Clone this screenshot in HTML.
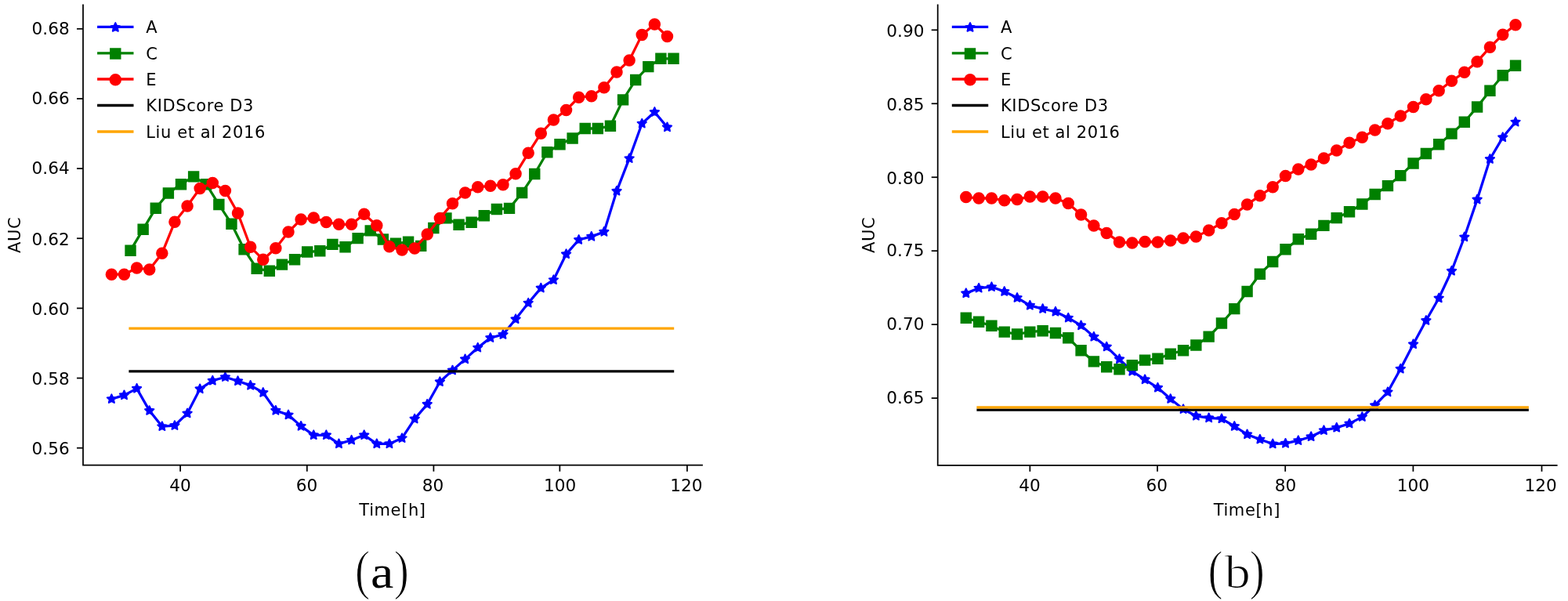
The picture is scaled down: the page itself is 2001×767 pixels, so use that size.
<!DOCTYPE html>
<html><head><meta charset="utf-8"><title>AUC over time</title>
<style>
html,body{margin:0;padding:0;background:#fff;}
svg{display:block;}
.t{font-family:"DejaVu Sans","Liberation Sans",sans-serif;font-size:21.6px;fill:#000;}
.cap{font-family:"Liberation Serif","DejaVu Serif",serif;font-size:60px;fill:#000;}
.capb{stroke:#fff;stroke-width:1.1px;}
.par{font-family:"Liberation Serif","DejaVu Serif",serif;font-size:70px;fill:#000;stroke:#fff;stroke-width:1.2px;}
.l{font-family:"DejaVu Sans","Liberation Sans",sans-serif;font-size:21px;letter-spacing:0.6px;fill:#000;}
</style></head>
<body>
<svg width="2001" height="767" viewBox="0 0 2001 767">
<rect width="2001" height="767" fill="#fff"/>
<path d="M142.36,509.2 L158.48,504.4 L174.59,495.9 L190.71,524.1 L206.83,544.2 L222.94,543.1 L239.06,527.5 L255.17,496.4 L271.29,485.8 L287.41,481.2 L303.52,486.3 L319.64,491.9 L335.75,501 L351.87,523.9 L367.99,529.5 L384.1,543.9 L400.22,555.3 L416.33,555.3 L432.45,566.4 L448.57,561.7 L464.68,555.3 L480.8,566.4 L496.91,566.4 L513.03,559.2 L529.15,534.6 L545.26,515.9 L561.38,487.3 L577.49,472.6 L593.61,458.4 L609.73,443.7 L625.84,431.1 L641.96,427 L658.07,407.3 L674.19,386.7 L690.31,367.6 L706.42,357.2 L722.54,324.3 L738.65,306 L754.77,301.9 L770.89,295.9 L787,243.8 L803.12,202.2 L819.23,157.7 L835.35,143 L851.47,162.4" fill="none" stroke="#0000ff" stroke-width="3.26" stroke-linejoin="round" stroke-linecap="square"/>
<path d="M142.36,503.3 L140.7,506.91 L136.75,507.38 L139.67,510.08 L138.89,513.97 L142.36,512.03 L145.83,513.97 L145.06,510.08 L147.97,507.38 L144.03,506.91Z M158.48,498.5 L156.81,502.11 L152.87,502.58 L155.78,505.28 L155.01,509.17 L158.48,507.23 L161.95,509.17 L161.17,505.28 L164.09,502.58 L160.14,502.11Z M174.59,490 L172.93,493.61 L168.98,494.08 L171.9,496.78 L171.13,500.67 L174.59,498.73 L178.06,500.67 L177.29,496.78 L180.21,494.08 L176.26,493.61Z M190.71,518.2 L189.05,521.81 L185.1,522.28 L188.02,524.98 L187.24,528.87 L190.71,526.93 L194.18,528.87 L193.4,524.98 L196.32,522.28 L192.37,521.81Z M206.83,538.3 L205.16,541.91 L201.21,542.38 L204.13,545.08 L203.36,548.97 L206.83,547.03 L210.29,548.97 L209.52,545.08 L212.44,542.38 L208.49,541.91Z M222.94,537.2 L221.28,540.81 L217.33,541.28 L220.25,543.98 L219.47,547.87 L222.94,545.93 L226.41,547.87 L225.64,543.98 L228.55,541.28 L224.61,540.81Z M239.06,521.6 L237.39,525.21 L233.45,525.68 L236.36,528.38 L235.59,532.27 L239.06,530.33 L242.53,532.27 L241.75,528.38 L244.67,525.68 L240.72,525.21Z M255.17,490.5 L253.51,494.11 L249.56,494.58 L252.48,497.28 L251.71,501.17 L255.17,499.23 L258.64,501.17 L257.87,497.28 L260.79,494.58 L256.84,494.11Z M271.29,479.9 L269.63,483.51 L265.68,483.98 L268.6,486.68 L267.82,490.57 L271.29,488.63 L274.76,490.57 L273.98,486.68 L276.9,483.98 L272.95,483.51Z M287.41,475.3 L285.74,478.91 L281.79,479.38 L284.71,482.08 L283.94,485.97 L287.41,484.03 L290.87,485.97 L290.1,482.08 L293.02,479.38 L289.07,478.91Z M303.52,480.4 L301.86,484.01 L297.91,484.48 L300.83,487.18 L300.05,491.07 L303.52,489.13 L306.99,491.07 L306.22,487.18 L309.13,484.48 L305.19,484.01Z M319.64,486 L317.97,489.61 L314.03,490.08 L316.94,492.78 L316.17,496.67 L319.64,494.73 L323.11,496.67 L322.33,492.78 L325.25,490.08 L321.3,489.61Z M335.75,495.1 L334.09,498.71 L330.14,499.18 L333.06,501.88 L332.29,505.77 L335.75,503.83 L339.22,505.77 L338.45,501.88 L341.37,499.18 L337.42,498.71Z M351.87,518 L350.21,521.61 L346.26,522.08 L349.18,524.78 L348.4,528.67 L351.87,526.73 L355.34,528.67 L354.56,524.78 L357.48,522.08 L353.53,521.61Z M367.99,523.6 L366.32,527.21 L362.37,527.68 L365.29,530.38 L364.52,534.27 L367.99,532.33 L371.45,534.27 L370.68,530.38 L373.6,527.68 L369.65,527.21Z M384.1,538 L382.44,541.61 L378.49,542.08 L381.41,544.78 L380.63,548.67 L384.1,546.73 L387.57,548.67 L386.8,544.78 L389.71,542.08 L385.77,541.61Z M400.22,549.4 L398.55,553.01 L394.61,553.48 L397.52,556.18 L396.75,560.07 L400.22,558.13 L403.69,560.07 L402.91,556.18 L405.83,553.48 L401.88,553.01Z M416.33,549.4 L414.67,553.01 L410.72,553.48 L413.64,556.18 L412.87,560.07 L416.33,558.13 L419.8,560.07 L419.03,556.18 L421.95,553.48 L418,553.01Z M432.45,560.5 L430.79,564.11 L426.84,564.58 L429.76,567.28 L428.98,571.17 L432.45,569.23 L435.92,571.17 L435.14,567.28 L438.06,564.58 L434.11,564.11Z M448.57,555.8 L446.9,559.41 L442.95,559.88 L445.87,562.58 L445.1,566.47 L448.57,564.53 L452.03,566.47 L451.26,562.58 L454.18,559.88 L450.23,559.41Z M464.68,549.4 L463.02,553.01 L459.07,553.48 L461.99,556.18 L461.21,560.07 L464.68,558.13 L468.15,560.07 L467.38,556.18 L470.29,553.48 L466.35,553.01Z M480.8,560.5 L479.13,564.11 L475.19,564.58 L478.1,567.28 L477.33,571.17 L480.8,569.23 L484.27,571.17 L483.49,567.28 L486.41,564.58 L482.46,564.11Z M496.91,560.5 L495.25,564.11 L491.3,564.58 L494.22,567.28 L493.45,571.17 L496.91,569.23 L500.38,571.17 L499.61,567.28 L502.53,564.58 L498.58,564.11Z M513.03,553.3 L511.37,556.91 L507.42,557.38 L510.34,560.08 L509.56,563.97 L513.03,562.03 L516.5,563.97 L515.72,560.08 L518.64,557.38 L514.69,556.91Z M529.15,528.7 L527.48,532.31 L523.53,532.78 L526.45,535.48 L525.68,539.37 L529.15,537.43 L532.61,539.37 L531.84,535.48 L534.76,532.78 L530.81,532.31Z M545.26,510 L543.6,513.61 L539.65,514.08 L542.57,516.78 L541.79,520.67 L545.26,518.73 L548.73,520.67 L547.96,516.78 L550.87,514.08 L546.93,513.61Z M561.38,481.4 L559.71,485.01 L555.77,485.48 L558.68,488.18 L557.91,492.07 L561.38,490.13 L564.85,492.07 L564.07,488.18 L566.99,485.48 L563.04,485.01Z M577.49,466.7 L575.83,470.31 L571.88,470.78 L574.8,473.48 L574.03,477.37 L577.49,475.43 L580.96,477.37 L580.19,473.48 L583.11,470.78 L579.16,470.31Z M593.61,452.5 L591.95,456.11 L588,456.58 L590.92,459.28 L590.14,463.17 L593.61,461.23 L597.08,463.17 L596.3,459.28 L599.22,456.58 L595.27,456.11Z M609.73,437.8 L608.06,441.41 L604.11,441.88 L607.03,444.58 L606.26,448.47 L609.73,446.53 L613.19,448.47 L612.42,444.58 L615.34,441.88 L611.39,441.41Z M625.84,425.2 L624.18,428.81 L620.23,429.28 L623.15,431.98 L622.37,435.87 L625.84,433.93 L629.31,435.87 L628.54,431.98 L631.45,429.28 L627.51,428.81Z M641.96,421.1 L640.29,424.71 L636.35,425.18 L639.26,427.88 L638.49,431.77 L641.96,429.83 L645.43,431.77 L644.65,427.88 L647.57,425.18 L643.62,424.71Z M658.07,401.4 L656.41,405.01 L652.46,405.48 L655.38,408.18 L654.61,412.07 L658.07,410.13 L661.54,412.07 L660.77,408.18 L663.69,405.48 L659.74,405.01Z M674.19,380.8 L672.53,384.41 L668.58,384.88 L671.5,387.58 L670.72,391.47 L674.19,389.53 L677.66,391.47 L676.88,387.58 L679.8,384.88 L675.85,384.41Z M690.31,361.7 L688.64,365.31 L684.69,365.78 L687.61,368.48 L686.84,372.37 L690.31,370.43 L693.77,372.37 L693,368.48 L695.92,365.78 L691.97,365.31Z M706.42,351.3 L704.76,354.91 L700.81,355.38 L703.73,358.08 L702.95,361.97 L706.42,360.03 L709.89,361.97 L709.12,358.08 L712.03,355.38 L708.09,354.91Z M722.54,318.4 L720.87,322.01 L716.93,322.48 L719.84,325.18 L719.07,329.07 L722.54,327.13 L726.01,329.07 L725.23,325.18 L728.15,322.48 L724.2,322.01Z M738.65,300.1 L736.99,303.71 L733.04,304.18 L735.96,306.88 L735.19,310.77 L738.65,308.83 L742.12,310.77 L741.35,306.88 L744.27,304.18 L740.32,303.71Z M754.77,296 L753.11,299.61 L749.16,300.08 L752.08,302.78 L751.3,306.67 L754.77,304.73 L758.24,306.67 L757.46,302.78 L760.38,300.08 L756.43,299.61Z M770.89,290 L769.22,293.61 L765.27,294.08 L768.19,296.78 L767.42,300.67 L770.89,298.73 L774.35,300.67 L773.58,296.78 L776.5,294.08 L772.55,293.61Z M787,237.9 L785.34,241.51 L781.39,241.98 L784.31,244.68 L783.53,248.57 L787,246.63 L790.47,248.57 L789.7,244.68 L792.61,241.98 L788.67,241.51Z M803.12,196.3 L801.45,199.91 L797.51,200.38 L800.42,203.08 L799.65,206.97 L803.12,205.03 L806.59,206.97 L805.81,203.08 L808.73,200.38 L804.78,199.91Z M819.23,151.8 L817.57,155.41 L813.62,155.88 L816.54,158.58 L815.77,162.47 L819.23,160.53 L822.7,162.47 L821.93,158.58 L824.85,155.88 L820.9,155.41Z M835.35,137.1 L833.69,140.71 L829.74,141.18 L832.66,143.88 L831.88,147.77 L835.35,145.83 L838.82,147.77 L838.04,143.88 L840.96,141.18 L837.01,140.71Z M851.47,156.5 L849.8,160.11 L845.85,160.58 L848.77,163.28 L848,167.17 L851.47,165.23 L854.93,167.17 L854.16,163.28 L857.08,160.58 L853.13,160.11Z" fill="#0000ff" stroke="#0000ff" stroke-width="2.0" stroke-linejoin="round"/>
<path d="M166.54,319.7 L182.65,292.7 L198.77,265.7 L214.88,246.5 L231,235.2 L247.12,225.4 L263.23,235.2 L279.35,261 L295.46,285.7 L311.58,318.3 L327.7,342.7 L343.81,345.8 L359.93,337.6 L376.04,331.2 L392.16,321.5 L408.28,320.3 L424.39,311.9 L440.51,315.3 L456.62,304.1 L472.74,294.4 L488.86,305.5 L504.97,310.7 L521.09,308.8 L537.2,313.9 L553.32,291 L569.44,278.4 L585.55,286.8 L601.67,283.7 L617.78,275.3 L633.9,267 L650.02,265.9 L666.13,246.05 L682.25,222 L698.36,194.3 L714.48,184.3 L730.6,176.5 L746.71,164 L762.83,164 L778.94,160.8 L795.06,127.4 L811.18,102 L827.29,85.1 L843.41,74.8 L859.52,74.8" fill="none" stroke="#008000" stroke-width="3.26" stroke-linejoin="round" stroke-linecap="square"/>
<path d="M160.34,313.5h12.4v12.4h-12.4Z M176.45,286.5h12.4v12.4h-12.4Z M192.57,259.5h12.4v12.4h-12.4Z M208.68,240.3h12.4v12.4h-12.4Z M224.8,229h12.4v12.4h-12.4Z M240.92,219.2h12.4v12.4h-12.4Z M257.03,229h12.4v12.4h-12.4Z M273.15,254.8h12.4v12.4h-12.4Z M289.26,279.5h12.4v12.4h-12.4Z M305.38,312.1h12.4v12.4h-12.4Z M321.5,336.5h12.4v12.4h-12.4Z M337.61,339.6h12.4v12.4h-12.4Z M353.73,331.4h12.4v12.4h-12.4Z M369.84,325h12.4v12.4h-12.4Z M385.96,315.3h12.4v12.4h-12.4Z M402.08,314.1h12.4v12.4h-12.4Z M418.19,305.7h12.4v12.4h-12.4Z M434.31,309.1h12.4v12.4h-12.4Z M450.42,297.9h12.4v12.4h-12.4Z M466.54,288.2h12.4v12.4h-12.4Z M482.66,299.3h12.4v12.4h-12.4Z M498.77,304.5h12.4v12.4h-12.4Z M514.89,302.6h12.4v12.4h-12.4Z M531,307.7h12.4v12.4h-12.4Z M547.12,284.8h12.4v12.4h-12.4Z M563.24,272.2h12.4v12.4h-12.4Z M579.35,280.6h12.4v12.4h-12.4Z M595.47,277.5h12.4v12.4h-12.4Z M611.58,269.1h12.4v12.4h-12.4Z M627.7,260.8h12.4v12.4h-12.4Z M643.82,259.7h12.4v12.4h-12.4Z M659.93,239.85h12.4v12.4h-12.4Z M676.05,215.8h12.4v12.4h-12.4Z M692.16,188.1h12.4v12.4h-12.4Z M708.28,178.1h12.4v12.4h-12.4Z M724.4,170.3h12.4v12.4h-12.4Z M740.51,157.8h12.4v12.4h-12.4Z M756.63,157.8h12.4v12.4h-12.4Z M772.74,154.6h12.4v12.4h-12.4Z M788.86,121.2h12.4v12.4h-12.4Z M804.98,95.8h12.4v12.4h-12.4Z M821.09,78.9h12.4v12.4h-12.4Z M837.21,68.6h12.4v12.4h-12.4Z M853.32,68.6h12.4v12.4h-12.4Z" fill="#008000" stroke="#008000" stroke-width="2.0" stroke-linejoin="miter"/>
<path d="M142.36,350.2 L158.48,350.2 L174.59,342 L190.71,343.9 L206.83,323.2 L222.94,283.3 L239.06,262.9 L255.17,240.4 L271.29,233.6 L287.41,243.4 L303.52,272 L319.64,315.3 L335.75,331.2 L351.87,316.8 L367.99,296.1 L384.1,280 L400.22,278 L416.33,283.4 L432.45,286.3 L448.57,286.3 L464.68,273.2 L480.8,287.7 L496.91,314.8 L513.03,318.9 L529.15,317 L545.26,298.9 L561.38,278.4 L577.49,259.7 L593.61,246.1 L609.73,238.8 L625.84,237.2 L641.96,235.7 L658.07,221.7 L674.19,195.35 L690.31,170.2 L706.42,153 L722.54,140.5 L738.65,124.2 L754.77,122.7 L770.89,111.7 L787,92 L803.12,77 L819.23,44.4 L835.35,31 L851.47,46.6" fill="none" stroke="#ff0000" stroke-width="3.26" stroke-linejoin="round" stroke-linecap="square"/>
<circle cx="142.36" cy="350.2" r="6.75" fill="#ff0000" stroke="#ff0000" stroke-width="2.0"/>
<circle cx="158.48" cy="350.2" r="6.75" fill="#ff0000" stroke="#ff0000" stroke-width="2.0"/>
<circle cx="174.59" cy="342" r="6.75" fill="#ff0000" stroke="#ff0000" stroke-width="2.0"/>
<circle cx="190.71" cy="343.9" r="6.75" fill="#ff0000" stroke="#ff0000" stroke-width="2.0"/>
<circle cx="206.83" cy="323.2" r="6.75" fill="#ff0000" stroke="#ff0000" stroke-width="2.0"/>
<circle cx="222.94" cy="283.3" r="6.75" fill="#ff0000" stroke="#ff0000" stroke-width="2.0"/>
<circle cx="239.06" cy="262.9" r="6.75" fill="#ff0000" stroke="#ff0000" stroke-width="2.0"/>
<circle cx="255.17" cy="240.4" r="6.75" fill="#ff0000" stroke="#ff0000" stroke-width="2.0"/>
<circle cx="271.29" cy="233.6" r="6.75" fill="#ff0000" stroke="#ff0000" stroke-width="2.0"/>
<circle cx="287.41" cy="243.4" r="6.75" fill="#ff0000" stroke="#ff0000" stroke-width="2.0"/>
<circle cx="303.52" cy="272" r="6.75" fill="#ff0000" stroke="#ff0000" stroke-width="2.0"/>
<circle cx="319.64" cy="315.3" r="6.75" fill="#ff0000" stroke="#ff0000" stroke-width="2.0"/>
<circle cx="335.75" cy="331.2" r="6.75" fill="#ff0000" stroke="#ff0000" stroke-width="2.0"/>
<circle cx="351.87" cy="316.8" r="6.75" fill="#ff0000" stroke="#ff0000" stroke-width="2.0"/>
<circle cx="367.99" cy="296.1" r="6.75" fill="#ff0000" stroke="#ff0000" stroke-width="2.0"/>
<circle cx="384.1" cy="280" r="6.75" fill="#ff0000" stroke="#ff0000" stroke-width="2.0"/>
<circle cx="400.22" cy="278" r="6.75" fill="#ff0000" stroke="#ff0000" stroke-width="2.0"/>
<circle cx="416.33" cy="283.4" r="6.75" fill="#ff0000" stroke="#ff0000" stroke-width="2.0"/>
<circle cx="432.45" cy="286.3" r="6.75" fill="#ff0000" stroke="#ff0000" stroke-width="2.0"/>
<circle cx="448.57" cy="286.3" r="6.75" fill="#ff0000" stroke="#ff0000" stroke-width="2.0"/>
<circle cx="464.68" cy="273.2" r="6.75" fill="#ff0000" stroke="#ff0000" stroke-width="2.0"/>
<circle cx="480.8" cy="287.7" r="6.75" fill="#ff0000" stroke="#ff0000" stroke-width="2.0"/>
<circle cx="496.91" cy="314.8" r="6.75" fill="#ff0000" stroke="#ff0000" stroke-width="2.0"/>
<circle cx="513.03" cy="318.9" r="6.75" fill="#ff0000" stroke="#ff0000" stroke-width="2.0"/>
<circle cx="529.15" cy="317" r="6.75" fill="#ff0000" stroke="#ff0000" stroke-width="2.0"/>
<circle cx="545.26" cy="298.9" r="6.75" fill="#ff0000" stroke="#ff0000" stroke-width="2.0"/>
<circle cx="561.38" cy="278.4" r="6.75" fill="#ff0000" stroke="#ff0000" stroke-width="2.0"/>
<circle cx="577.49" cy="259.7" r="6.75" fill="#ff0000" stroke="#ff0000" stroke-width="2.0"/>
<circle cx="593.61" cy="246.1" r="6.75" fill="#ff0000" stroke="#ff0000" stroke-width="2.0"/>
<circle cx="609.73" cy="238.8" r="6.75" fill="#ff0000" stroke="#ff0000" stroke-width="2.0"/>
<circle cx="625.84" cy="237.2" r="6.75" fill="#ff0000" stroke="#ff0000" stroke-width="2.0"/>
<circle cx="641.96" cy="235.7" r="6.75" fill="#ff0000" stroke="#ff0000" stroke-width="2.0"/>
<circle cx="658.07" cy="221.7" r="6.75" fill="#ff0000" stroke="#ff0000" stroke-width="2.0"/>
<circle cx="674.19" cy="195.35" r="6.75" fill="#ff0000" stroke="#ff0000" stroke-width="2.0"/>
<circle cx="690.31" cy="170.2" r="6.75" fill="#ff0000" stroke="#ff0000" stroke-width="2.0"/>
<circle cx="706.42" cy="153" r="6.75" fill="#ff0000" stroke="#ff0000" stroke-width="2.0"/>
<circle cx="722.54" cy="140.5" r="6.75" fill="#ff0000" stroke="#ff0000" stroke-width="2.0"/>
<circle cx="738.65" cy="124.2" r="6.75" fill="#ff0000" stroke="#ff0000" stroke-width="2.0"/>
<circle cx="754.77" cy="122.7" r="6.75" fill="#ff0000" stroke="#ff0000" stroke-width="2.0"/>
<circle cx="770.89" cy="111.7" r="6.75" fill="#ff0000" stroke="#ff0000" stroke-width="2.0"/>
<circle cx="787" cy="92" r="6.75" fill="#ff0000" stroke="#ff0000" stroke-width="2.0"/>
<circle cx="803.12" cy="77" r="6.75" fill="#ff0000" stroke="#ff0000" stroke-width="2.0"/>
<circle cx="819.23" cy="44.4" r="6.75" fill="#ff0000" stroke="#ff0000" stroke-width="2.0"/>
<circle cx="835.35" cy="31" r="6.75" fill="#ff0000" stroke="#ff0000" stroke-width="2.0"/>
<circle cx="851.47" cy="46.6" r="6.75" fill="#ff0000" stroke="#ff0000" stroke-width="2.0"/>
<line x1="164.4" y1="473.8" x2="860.2" y2="473.8" stroke="#000" stroke-width="3.26"/>
<line x1="164.4" y1="419.05" x2="860.2" y2="419.05" stroke="#ffa500" stroke-width="3.26"/>
<line x1="106" y1="36.8" x2="98" y2="36.8" stroke="#000" stroke-width="1.75"/>
<text x="88.7" y="43.7" text-anchor="end" class="t">0.68</text>
<line x1="106" y1="125.95" x2="98" y2="125.95" stroke="#000" stroke-width="1.75"/>
<text x="88.7" y="132.8" text-anchor="end" class="t">0.66</text>
<line x1="106" y1="215.1" x2="98" y2="215.1" stroke="#000" stroke-width="1.75"/>
<text x="88.7" y="221.9" text-anchor="end" class="t">0.64</text>
<line x1="106" y1="304.25" x2="98" y2="304.25" stroke="#000" stroke-width="1.75"/>
<text x="88.7" y="313" text-anchor="end" class="t">0.62</text>
<line x1="106" y1="393.4" x2="98" y2="393.4" stroke="#000" stroke-width="1.75"/>
<text x="88.7" y="401.9" text-anchor="end" class="t">0.60</text>
<line x1="106" y1="482.55" x2="98" y2="482.55" stroke="#000" stroke-width="1.75"/>
<text x="88.7" y="491" text-anchor="end" class="t">0.58</text>
<line x1="106" y1="571.7" x2="98" y2="571.7" stroke="#000" stroke-width="1.75"/>
<text x="88.7" y="580.3" text-anchor="end" class="t">0.56</text>
<line x1="230.1" y1="593.7" x2="230.1" y2="601.7" stroke="#000" stroke-width="1.75"/>
<text x="230" y="626.5" text-anchor="middle" class="t">40</text>
<line x1="391.8" y1="593.7" x2="391.8" y2="601.7" stroke="#000" stroke-width="1.75"/>
<text x="391.6" y="626.5" text-anchor="middle" class="t">60</text>
<line x1="553.4" y1="593.7" x2="553.4" y2="601.7" stroke="#000" stroke-width="1.75"/>
<text x="552.6" y="626.5" text-anchor="middle" class="t">80</text>
<line x1="714.35" y1="593.7" x2="714.35" y2="601.7" stroke="#000" stroke-width="1.75"/>
<text x="714.6" y="626.5" text-anchor="middle" class="t">100</text>
<line x1="876.9" y1="593.7" x2="876.9" y2="601.7" stroke="#000" stroke-width="1.75"/>
<text x="875.8" y="626.5" text-anchor="middle" class="t">120</text>
<path d="M106,6.38 V593.7 M106,593.7 H896.02" fill="none" stroke="#000" stroke-width="1.75" stroke-linecap="square"/>
<text x="501" y="658.3" text-anchor="middle" class="l">Time[h]</text>
<text transform="translate(25.6,299.8) rotate(-90)" text-anchor="middle" class="l">AUC</text>
<line x1="124.1" y1="34.3" x2="170.5" y2="34.3" stroke="#0000ff" stroke-width="3.26"/>
<path d="M147.3,29.1 L145.64,32.71 L141.69,33.18 L144.61,35.88 L143.83,39.77 L147.3,37.83 L150.77,39.77 L149.99,35.88 L152.91,33.18 L148.96,32.71Z" fill="#0000ff" stroke="#0000ff" stroke-width="2.0" stroke-linejoin="round"/>
<text x="186.3" y="42.2" class="l">A</text>
<line x1="124.1" y1="67.8" x2="170.5" y2="67.8" stroke="#008000" stroke-width="3.26"/>
<path d="M141.1,62.3h12.4v12.4h-12.4Z" fill="#008000" stroke="#008000" stroke-width="2.0" stroke-linejoin="miter"/>
<text x="186.3" y="75.7" class="l">C</text>
<line x1="124.1" y1="101" x2="170.5" y2="101" stroke="#ff0000" stroke-width="3.26"/>
<circle cx="147.3" cy="101.7" r="6.75" fill="#ff0000" stroke="#ff0000" stroke-width="2.0"/>
<text x="186.3" y="108.9" class="l">E</text>
<line x1="124.1" y1="134.5" x2="170.5" y2="134.5" stroke="#000000" stroke-width="3.26"/>
<text x="186.3" y="142.4" class="l">KIDScore D3</text>
<line x1="124.1" y1="168" x2="170.5" y2="168" stroke="#ffa500" stroke-width="3.26"/>
<text x="186.3" y="175.9" class="l">Liu et al 2016</text>
<path d="M1232.8,374.3 L1249.11,367.7 L1265.42,366.2 L1281.72,372 L1298.03,380 L1314.34,389.8 L1330.65,394.1 L1346.96,397.75 L1363.26,405.7 L1379.57,415.4 L1395.88,429.75 L1412.19,442.6 L1428.5,458.3 L1444.8,473.9 L1461.11,484.4 L1477.42,494.8 L1493.73,509.1 L1510.04,522.2 L1526.34,530.8 L1542.65,533.4 L1558.96,534.35 L1575.27,544 L1591.58,554.4 L1607.88,560.7 L1624.19,566.5 L1640.5,565.9 L1656.81,562.2 L1673.12,557.3 L1689.42,549.2 L1705.73,545.8 L1722.04,540.6 L1738.35,532.1 L1754.66,517.25 L1770.96,500.4 L1787.27,470.75 L1803.58,439.25 L1819.89,409 L1836.2,380.5 L1852.5,345.8 L1868.81,302.5 L1885.12,254.6 L1901.43,203 L1917.74,175.3 L1934.04,155.7" fill="none" stroke="#0000ff" stroke-width="3.26" stroke-linejoin="round" stroke-linecap="square"/>
<path d="M1232.8,368.4 L1231.14,372.01 L1227.19,372.48 L1230.11,375.18 L1229.33,379.07 L1232.8,377.13 L1236.27,379.07 L1235.49,375.18 L1238.41,372.48 L1234.46,372.01Z M1249.11,361.8 L1247.44,365.41 L1243.5,365.88 L1246.41,368.58 L1245.64,372.47 L1249.11,370.53 L1252.58,372.47 L1251.8,368.58 L1254.72,365.88 L1250.77,365.41Z M1265.42,360.3 L1263.75,363.91 L1259.8,364.38 L1262.72,367.08 L1261.95,370.97 L1265.42,369.03 L1268.88,370.97 L1268.11,367.08 L1271.03,364.38 L1267.08,363.91Z M1281.72,366.1 L1280.06,369.71 L1276.11,370.18 L1279.03,372.88 L1278.26,376.77 L1281.72,374.83 L1285.19,376.77 L1284.42,372.88 L1287.34,370.18 L1283.39,369.71Z M1298.03,374.1 L1296.37,377.71 L1292.42,378.18 L1295.34,380.88 L1294.56,384.77 L1298.03,382.83 L1301.5,384.77 L1300.73,380.88 L1303.64,378.18 L1299.7,377.71Z M1314.34,383.9 L1312.68,387.51 L1308.73,387.98 L1311.65,390.68 L1310.87,394.57 L1314.34,392.63 L1317.81,394.57 L1317.03,390.68 L1319.95,387.98 L1316,387.51Z M1330.65,388.2 L1328.98,391.81 L1325.04,392.28 L1327.95,394.98 L1327.18,398.87 L1330.65,396.93 L1334.12,398.87 L1333.34,394.98 L1336.26,392.28 L1332.31,391.81Z M1346.96,391.85 L1345.29,395.46 L1341.34,395.93 L1344.26,398.63 L1343.49,402.52 L1346.96,400.58 L1350.42,402.52 L1349.65,398.63 L1352.57,395.93 L1348.62,395.46Z M1363.26,399.8 L1361.6,403.41 L1357.65,403.88 L1360.57,406.58 L1359.8,410.47 L1363.26,408.53 L1366.73,410.47 L1365.96,406.58 L1368.88,403.88 L1364.93,403.41Z M1379.57,409.5 L1377.91,413.11 L1373.96,413.58 L1376.88,416.28 L1376.1,420.17 L1379.57,418.23 L1383.04,420.17 L1382.27,416.28 L1385.18,413.58 L1381.24,413.11Z M1395.88,423.85 L1394.22,427.46 L1390.27,427.93 L1393.19,430.63 L1392.41,434.52 L1395.88,432.58 L1399.35,434.52 L1398.57,430.63 L1401.49,427.93 L1397.54,427.46Z M1412.19,436.7 L1410.52,440.31 L1406.58,440.78 L1409.49,443.48 L1408.72,447.37 L1412.19,445.43 L1415.66,447.37 L1414.88,443.48 L1417.8,440.78 L1413.85,440.31Z M1428.5,452.4 L1426.83,456.01 L1422.88,456.48 L1425.8,459.18 L1425.03,463.07 L1428.5,461.13 L1431.96,463.07 L1431.19,459.18 L1434.11,456.48 L1430.16,456.01Z M1444.8,468 L1443.14,471.61 L1439.19,472.08 L1442.11,474.78 L1441.34,478.67 L1444.8,476.73 L1448.27,478.67 L1447.5,474.78 L1450.42,472.08 L1446.47,471.61Z M1461.11,478.5 L1459.45,482.11 L1455.5,482.58 L1458.42,485.28 L1457.64,489.17 L1461.11,487.23 L1464.58,489.17 L1463.81,485.28 L1466.72,482.58 L1462.78,482.11Z M1477.42,488.9 L1475.76,492.51 L1471.81,492.98 L1474.73,495.68 L1473.95,499.57 L1477.42,497.63 L1480.89,499.57 L1480.11,495.68 L1483.03,492.98 L1479.08,492.51Z M1493.73,503.2 L1492.06,506.81 L1488.12,507.28 L1491.03,509.98 L1490.26,513.87 L1493.73,511.93 L1497.2,513.87 L1496.42,509.98 L1499.34,507.28 L1495.39,506.81Z M1510.04,516.3 L1508.37,519.91 L1504.42,520.38 L1507.34,523.08 L1506.57,526.97 L1510.04,525.03 L1513.5,526.97 L1512.73,523.08 L1515.65,520.38 L1511.7,519.91Z M1526.34,524.9 L1524.68,528.51 L1520.73,528.98 L1523.65,531.68 L1522.88,535.57 L1526.34,533.63 L1529.81,535.57 L1529.04,531.68 L1531.96,528.98 L1528.01,528.51Z M1542.65,527.5 L1540.99,531.11 L1537.04,531.58 L1539.96,534.28 L1539.18,538.17 L1542.65,536.23 L1546.12,538.17 L1545.35,534.28 L1548.26,531.58 L1544.32,531.11Z M1558.96,528.45 L1557.3,532.06 L1553.35,532.53 L1556.27,535.23 L1555.49,539.12 L1558.96,537.18 L1562.43,539.12 L1561.65,535.23 L1564.57,532.53 L1560.62,532.06Z M1575.27,538.1 L1573.6,541.71 L1569.66,542.18 L1572.57,544.88 L1571.8,548.77 L1575.27,546.83 L1578.74,548.77 L1577.96,544.88 L1580.88,542.18 L1576.93,541.71Z M1591.58,548.5 L1589.91,552.11 L1585.96,552.58 L1588.88,555.28 L1588.11,559.17 L1591.58,557.23 L1595.04,559.17 L1594.27,555.28 L1597.19,552.58 L1593.24,552.11Z M1607.88,554.8 L1606.22,558.41 L1602.27,558.88 L1605.19,561.58 L1604.42,565.47 L1607.88,563.53 L1611.35,565.47 L1610.58,561.58 L1613.5,558.88 L1609.55,558.41Z M1624.19,560.6 L1622.53,564.21 L1618.58,564.68 L1621.5,567.38 L1620.72,571.27 L1624.19,569.33 L1627.66,571.27 L1626.89,567.38 L1629.8,564.68 L1625.86,564.21Z M1640.5,560 L1638.84,563.61 L1634.89,564.08 L1637.81,566.78 L1637.03,570.67 L1640.5,568.73 L1643.97,570.67 L1643.19,566.78 L1646.11,564.08 L1642.16,563.61Z M1656.81,556.3 L1655.14,559.91 L1651.2,560.38 L1654.11,563.08 L1653.34,566.97 L1656.81,565.03 L1660.28,566.97 L1659.5,563.08 L1662.42,560.38 L1658.47,559.91Z M1673.12,551.4 L1671.45,555.01 L1667.5,555.48 L1670.42,558.18 L1669.65,562.07 L1673.12,560.13 L1676.58,562.07 L1675.81,558.18 L1678.73,555.48 L1674.78,555.01Z M1689.42,543.3 L1687.76,546.91 L1683.81,547.38 L1686.73,550.08 L1685.96,553.97 L1689.42,552.03 L1692.89,553.97 L1692.12,550.08 L1695.04,547.38 L1691.09,546.91Z M1705.73,539.9 L1704.07,543.51 L1700.12,543.98 L1703.04,546.68 L1702.26,550.57 L1705.73,548.63 L1709.2,550.57 L1708.43,546.68 L1711.34,543.98 L1707.4,543.51Z M1722.04,534.7 L1720.38,538.31 L1716.43,538.78 L1719.35,541.48 L1718.57,545.37 L1722.04,543.43 L1725.51,545.37 L1724.73,541.48 L1727.65,538.78 L1723.7,538.31Z M1738.35,526.2 L1736.68,529.81 L1732.74,530.28 L1735.65,532.98 L1734.88,536.87 L1738.35,534.93 L1741.82,536.87 L1741.04,532.98 L1743.96,530.28 L1740.01,529.81Z M1754.66,511.35 L1752.99,514.96 L1749.04,515.43 L1751.96,518.13 L1751.19,522.02 L1754.66,520.08 L1758.12,522.02 L1757.35,518.13 L1760.27,515.43 L1756.32,514.96Z M1770.96,494.5 L1769.3,498.11 L1765.35,498.58 L1768.27,501.28 L1767.5,505.17 L1770.96,503.23 L1774.43,505.17 L1773.66,501.28 L1776.58,498.58 L1772.63,498.11Z M1787.27,464.85 L1785.61,468.46 L1781.66,468.93 L1784.58,471.63 L1783.8,475.52 L1787.27,473.58 L1790.74,475.52 L1789.97,471.63 L1792.88,468.93 L1788.94,468.46Z M1803.58,433.35 L1801.92,436.96 L1797.97,437.43 L1800.89,440.13 L1800.11,444.02 L1803.58,442.08 L1807.05,444.02 L1806.27,440.13 L1809.19,437.43 L1805.24,436.96Z M1819.89,403.1 L1818.22,406.71 L1814.28,407.18 L1817.19,409.88 L1816.42,413.77 L1819.89,411.83 L1823.36,413.77 L1822.58,409.88 L1825.5,407.18 L1821.55,406.71Z M1836.2,374.6 L1834.53,378.21 L1830.58,378.68 L1833.5,381.38 L1832.73,385.27 L1836.2,383.33 L1839.66,385.27 L1838.89,381.38 L1841.81,378.68 L1837.86,378.21Z M1852.5,339.9 L1850.84,343.51 L1846.89,343.98 L1849.81,346.68 L1849.04,350.57 L1852.5,348.63 L1855.97,350.57 L1855.2,346.68 L1858.12,343.98 L1854.17,343.51Z M1868.81,296.6 L1867.15,300.21 L1863.2,300.68 L1866.12,303.38 L1865.34,307.27 L1868.81,305.33 L1872.28,307.27 L1871.51,303.38 L1874.42,300.68 L1870.48,300.21Z M1885.12,248.7 L1883.46,252.31 L1879.51,252.78 L1882.43,255.48 L1881.65,259.37 L1885.12,257.43 L1888.59,259.37 L1887.81,255.48 L1890.73,252.78 L1886.78,252.31Z M1901.43,197.1 L1899.76,200.71 L1895.82,201.18 L1898.73,203.88 L1897.96,207.77 L1901.43,205.83 L1904.9,207.77 L1904.12,203.88 L1907.04,201.18 L1903.09,200.71Z M1917.74,169.4 L1916.07,173.01 L1912.12,173.48 L1915.04,176.18 L1914.27,180.07 L1917.74,178.13 L1921.2,180.07 L1920.43,176.18 L1923.35,173.48 L1919.4,173.01Z M1934.04,149.8 L1932.38,153.41 L1928.43,153.88 L1931.35,156.58 L1930.58,160.47 L1934.04,158.53 L1937.51,160.47 L1936.74,156.58 L1939.66,153.88 L1935.71,153.41Z" fill="#0000ff" stroke="#0000ff" stroke-width="2.0" stroke-linejoin="round"/>
<path d="M1232.8,405.8 L1249.11,410.7 L1265.42,415.8 L1281.72,423.6 L1298.03,426.5 L1314.34,423.6 L1330.65,422.2 L1346.96,424.95 L1363.26,431.25 L1379.57,447.3 L1395.88,461.4 L1412.19,468.2 L1428.5,471.3 L1444.8,466.1 L1461.11,459.6 L1477.42,457.7 L1493.73,451.7 L1510.04,447.3 L1526.34,440.5 L1542.65,429.6 L1558.96,412.5 L1575.27,394.1 L1591.58,372.05 L1607.88,349.7 L1624.19,334 L1640.5,318.2 L1656.81,305.3 L1673.12,298.7 L1689.42,287.9 L1705.73,278.1 L1722.04,270.3 L1738.35,260.5 L1754.66,248 L1770.96,237.1 L1787.27,224.1 L1803.58,208.5 L1819.89,196 L1836.2,184.3 L1852.5,170.6 L1868.81,155.7 L1885.12,136.5 L1901.43,115.8 L1917.74,96.3 L1934.04,83.7" fill="none" stroke="#008000" stroke-width="3.26" stroke-linejoin="round" stroke-linecap="square"/>
<path d="M1226.6,399.6h12.4v12.4h-12.4Z M1242.91,404.5h12.4v12.4h-12.4Z M1259.22,409.6h12.4v12.4h-12.4Z M1275.52,417.4h12.4v12.4h-12.4Z M1291.83,420.3h12.4v12.4h-12.4Z M1308.14,417.4h12.4v12.4h-12.4Z M1324.45,416h12.4v12.4h-12.4Z M1340.76,418.75h12.4v12.4h-12.4Z M1357.06,425.05h12.4v12.4h-12.4Z M1373.37,441.1h12.4v12.4h-12.4Z M1389.68,455.2h12.4v12.4h-12.4Z M1405.99,462h12.4v12.4h-12.4Z M1422.3,465.1h12.4v12.4h-12.4Z M1438.6,459.9h12.4v12.4h-12.4Z M1454.91,453.4h12.4v12.4h-12.4Z M1471.22,451.5h12.4v12.4h-12.4Z M1487.53,445.5h12.4v12.4h-12.4Z M1503.84,441.1h12.4v12.4h-12.4Z M1520.14,434.3h12.4v12.4h-12.4Z M1536.45,423.4h12.4v12.4h-12.4Z M1552.76,406.3h12.4v12.4h-12.4Z M1569.07,387.9h12.4v12.4h-12.4Z M1585.38,365.85h12.4v12.4h-12.4Z M1601.68,343.5h12.4v12.4h-12.4Z M1617.99,327.8h12.4v12.4h-12.4Z M1634.3,312h12.4v12.4h-12.4Z M1650.61,299.1h12.4v12.4h-12.4Z M1666.92,292.5h12.4v12.4h-12.4Z M1683.22,281.7h12.4v12.4h-12.4Z M1699.53,271.9h12.4v12.4h-12.4Z M1715.84,264.1h12.4v12.4h-12.4Z M1732.15,254.3h12.4v12.4h-12.4Z M1748.46,241.8h12.4v12.4h-12.4Z M1764.76,230.9h12.4v12.4h-12.4Z M1781.07,217.9h12.4v12.4h-12.4Z M1797.38,202.3h12.4v12.4h-12.4Z M1813.69,189.8h12.4v12.4h-12.4Z M1830,178.1h12.4v12.4h-12.4Z M1846.3,164.4h12.4v12.4h-12.4Z M1862.61,149.5h12.4v12.4h-12.4Z M1878.92,130.3h12.4v12.4h-12.4Z M1895.23,109.6h12.4v12.4h-12.4Z M1911.54,90.1h12.4v12.4h-12.4Z M1927.84,77.5h12.4v12.4h-12.4Z" fill="#008000" stroke="#008000" stroke-width="2.0" stroke-linejoin="miter"/>
<path d="M1232.8,251.5 L1249.11,253 L1265.42,253 L1281.72,255.8 L1298.03,254.4 L1314.34,251 L1330.65,251 L1346.96,253 L1363.26,259.6 L1379.57,273.9 L1395.88,288 L1412.19,297.4 L1428.5,308.9 L1444.8,310.1 L1461.11,308.5 L1477.42,309 L1493.73,307 L1510.04,303.9 L1526.34,301.9 L1542.65,294.1 L1558.96,284.7 L1575.27,273.5 L1591.58,261.1 L1607.88,249.7 L1624.19,238.8 L1640.5,224.4 L1656.81,216 L1673.12,210 L1689.42,201.9 L1705.73,192.1 L1722.04,182.3 L1738.35,175.3 L1754.66,165.9 L1770.96,157.7 L1787.27,147.9 L1803.58,136.5 L1819.89,126.8 L1836.2,115.8 L1852.5,103.3 L1868.81,92.3 L1885.12,78.7 L1901.43,60.3 L1917.74,44.2 L1934.04,31.7" fill="none" stroke="#ff0000" stroke-width="3.26" stroke-linejoin="round" stroke-linecap="square"/>
<circle cx="1232.8" cy="251.5" r="6.75" fill="#ff0000" stroke="#ff0000" stroke-width="2.0"/>
<circle cx="1249.11" cy="253" r="6.75" fill="#ff0000" stroke="#ff0000" stroke-width="2.0"/>
<circle cx="1265.42" cy="253" r="6.75" fill="#ff0000" stroke="#ff0000" stroke-width="2.0"/>
<circle cx="1281.72" cy="255.8" r="6.75" fill="#ff0000" stroke="#ff0000" stroke-width="2.0"/>
<circle cx="1298.03" cy="254.4" r="6.75" fill="#ff0000" stroke="#ff0000" stroke-width="2.0"/>
<circle cx="1314.34" cy="251" r="6.75" fill="#ff0000" stroke="#ff0000" stroke-width="2.0"/>
<circle cx="1330.65" cy="251" r="6.75" fill="#ff0000" stroke="#ff0000" stroke-width="2.0"/>
<circle cx="1346.96" cy="253" r="6.75" fill="#ff0000" stroke="#ff0000" stroke-width="2.0"/>
<circle cx="1363.26" cy="259.6" r="6.75" fill="#ff0000" stroke="#ff0000" stroke-width="2.0"/>
<circle cx="1379.57" cy="273.9" r="6.75" fill="#ff0000" stroke="#ff0000" stroke-width="2.0"/>
<circle cx="1395.88" cy="288" r="6.75" fill="#ff0000" stroke="#ff0000" stroke-width="2.0"/>
<circle cx="1412.19" cy="297.4" r="6.75" fill="#ff0000" stroke="#ff0000" stroke-width="2.0"/>
<circle cx="1428.5" cy="308.9" r="6.75" fill="#ff0000" stroke="#ff0000" stroke-width="2.0"/>
<circle cx="1444.8" cy="310.1" r="6.75" fill="#ff0000" stroke="#ff0000" stroke-width="2.0"/>
<circle cx="1461.11" cy="308.5" r="6.75" fill="#ff0000" stroke="#ff0000" stroke-width="2.0"/>
<circle cx="1477.42" cy="309" r="6.75" fill="#ff0000" stroke="#ff0000" stroke-width="2.0"/>
<circle cx="1493.73" cy="307" r="6.75" fill="#ff0000" stroke="#ff0000" stroke-width="2.0"/>
<circle cx="1510.04" cy="303.9" r="6.75" fill="#ff0000" stroke="#ff0000" stroke-width="2.0"/>
<circle cx="1526.34" cy="301.9" r="6.75" fill="#ff0000" stroke="#ff0000" stroke-width="2.0"/>
<circle cx="1542.65" cy="294.1" r="6.75" fill="#ff0000" stroke="#ff0000" stroke-width="2.0"/>
<circle cx="1558.96" cy="284.7" r="6.75" fill="#ff0000" stroke="#ff0000" stroke-width="2.0"/>
<circle cx="1575.27" cy="273.5" r="6.75" fill="#ff0000" stroke="#ff0000" stroke-width="2.0"/>
<circle cx="1591.58" cy="261.1" r="6.75" fill="#ff0000" stroke="#ff0000" stroke-width="2.0"/>
<circle cx="1607.88" cy="249.7" r="6.75" fill="#ff0000" stroke="#ff0000" stroke-width="2.0"/>
<circle cx="1624.19" cy="238.8" r="6.75" fill="#ff0000" stroke="#ff0000" stroke-width="2.0"/>
<circle cx="1640.5" cy="224.4" r="6.75" fill="#ff0000" stroke="#ff0000" stroke-width="2.0"/>
<circle cx="1656.81" cy="216" r="6.75" fill="#ff0000" stroke="#ff0000" stroke-width="2.0"/>
<circle cx="1673.12" cy="210" r="6.75" fill="#ff0000" stroke="#ff0000" stroke-width="2.0"/>
<circle cx="1689.42" cy="201.9" r="6.75" fill="#ff0000" stroke="#ff0000" stroke-width="2.0"/>
<circle cx="1705.73" cy="192.1" r="6.75" fill="#ff0000" stroke="#ff0000" stroke-width="2.0"/>
<circle cx="1722.04" cy="182.3" r="6.75" fill="#ff0000" stroke="#ff0000" stroke-width="2.0"/>
<circle cx="1738.35" cy="175.3" r="6.75" fill="#ff0000" stroke="#ff0000" stroke-width="2.0"/>
<circle cx="1754.66" cy="165.9" r="6.75" fill="#ff0000" stroke="#ff0000" stroke-width="2.0"/>
<circle cx="1770.96" cy="157.7" r="6.75" fill="#ff0000" stroke="#ff0000" stroke-width="2.0"/>
<circle cx="1787.27" cy="147.9" r="6.75" fill="#ff0000" stroke="#ff0000" stroke-width="2.0"/>
<circle cx="1803.58" cy="136.5" r="6.75" fill="#ff0000" stroke="#ff0000" stroke-width="2.0"/>
<circle cx="1819.89" cy="126.8" r="6.75" fill="#ff0000" stroke="#ff0000" stroke-width="2.0"/>
<circle cx="1836.2" cy="115.8" r="6.75" fill="#ff0000" stroke="#ff0000" stroke-width="2.0"/>
<circle cx="1852.5" cy="103.3" r="6.75" fill="#ff0000" stroke="#ff0000" stroke-width="2.0"/>
<circle cx="1868.81" cy="92.3" r="6.75" fill="#ff0000" stroke="#ff0000" stroke-width="2.0"/>
<circle cx="1885.12" cy="78.7" r="6.75" fill="#ff0000" stroke="#ff0000" stroke-width="2.0"/>
<circle cx="1901.43" cy="60.3" r="6.75" fill="#ff0000" stroke="#ff0000" stroke-width="2.0"/>
<circle cx="1917.74" cy="44.2" r="6.75" fill="#ff0000" stroke="#ff0000" stroke-width="2.0"/>
<circle cx="1934.04" cy="31.7" r="6.75" fill="#ff0000" stroke="#ff0000" stroke-width="2.0"/>
<line x1="1246.4" y1="523.1" x2="1950.9" y2="523.1" stroke="#000" stroke-width="3.26"/>
<line x1="1246.4" y1="519.85" x2="1950.9" y2="519.85" stroke="#ffa500" stroke-width="3.26"/>
<line x1="1196.7" y1="38.3" x2="1188.7" y2="38.3" stroke="#000" stroke-width="1.75"/>
<text x="1179.4" y="46.8" text-anchor="end" class="t">0.90</text>
<line x1="1196.7" y1="132.26" x2="1188.7" y2="132.26" stroke="#000" stroke-width="1.75"/>
<text x="1179.4" y="140.8" text-anchor="end" class="t">0.85</text>
<line x1="1196.7" y1="226.22" x2="1188.7" y2="226.22" stroke="#000" stroke-width="1.75"/>
<text x="1179.4" y="234.8" text-anchor="end" class="t">0.80</text>
<line x1="1196.7" y1="320.18" x2="1188.7" y2="320.18" stroke="#000" stroke-width="1.75"/>
<text x="1179.4" y="327" text-anchor="end" class="t">0.75</text>
<line x1="1196.7" y1="414.14" x2="1188.7" y2="414.14" stroke="#000" stroke-width="1.75"/>
<text x="1179.4" y="421" text-anchor="end" class="t">0.70</text>
<line x1="1196.7" y1="508.1" x2="1188.7" y2="508.1" stroke="#000" stroke-width="1.75"/>
<text x="1179.4" y="515" text-anchor="end" class="t">0.65</text>
<line x1="1314.35" y1="593.8" x2="1314.35" y2="601.8" stroke="#000" stroke-width="1.75"/>
<text x="1314.1" y="626.5" text-anchor="middle" class="t">40</text>
<line x1="1477" y1="593.8" x2="1477" y2="601.8" stroke="#000" stroke-width="1.75"/>
<text x="1476.3" y="626.5" text-anchor="middle" class="t">60</text>
<line x1="1640.2" y1="593.8" x2="1640.2" y2="601.8" stroke="#000" stroke-width="1.75"/>
<text x="1640.4" y="626.5" text-anchor="middle" class="t">80</text>
<line x1="1803.4" y1="593.8" x2="1803.4" y2="601.8" stroke="#000" stroke-width="1.75"/>
<text x="1803.4" y="626.5" text-anchor="middle" class="t">100</text>
<line x1="1967.5" y1="593.8" x2="1967.5" y2="601.8" stroke="#000" stroke-width="1.75"/>
<text x="1966.1" y="626.5" text-anchor="middle" class="t">120</text>
<path d="M1196.7,6.38 V593.8 M1196.7,593.8 H1986.72" fill="none" stroke="#000" stroke-width="1.75" stroke-linecap="square"/>
<text x="1591.3" y="658.3" text-anchor="middle" class="l">Time[h]</text>
<text transform="translate(1116,299.8) rotate(-90)" text-anchor="middle" class="l">AUC</text>
<line x1="1214.8" y1="34.3" x2="1261.2" y2="34.3" stroke="#0000ff" stroke-width="3.26"/>
<path d="M1238,29.1 L1236.34,32.71 L1232.39,33.18 L1235.31,35.88 L1234.53,39.77 L1238,37.83 L1241.47,39.77 L1240.69,35.88 L1243.61,33.18 L1239.66,32.71Z" fill="#0000ff" stroke="#0000ff" stroke-width="2.0" stroke-linejoin="round"/>
<text x="1277" y="42.2" class="l">A</text>
<line x1="1214.8" y1="67.8" x2="1261.2" y2="67.8" stroke="#008000" stroke-width="3.26"/>
<path d="M1231.8,62.3h12.4v12.4h-12.4Z" fill="#008000" stroke="#008000" stroke-width="2.0" stroke-linejoin="miter"/>
<text x="1277" y="75.7" class="l">C</text>
<line x1="1214.8" y1="101" x2="1261.2" y2="101" stroke="#ff0000" stroke-width="3.26"/>
<circle cx="1238" cy="101.7" r="6.75" fill="#ff0000" stroke="#ff0000" stroke-width="2.0"/>
<text x="1277" y="108.9" class="l">E</text>
<line x1="1214.8" y1="134.5" x2="1261.2" y2="134.5" stroke="#000000" stroke-width="3.26"/>
<text x="1277" y="142.4" class="l">KIDScore D3</text>
<line x1="1214.8" y1="168" x2="1261.2" y2="168" stroke="#ffa500" stroke-width="3.26"/>
<text x="1277" y="175.9" class="l">Liu et al 2016</text>
<text transform="translate(453,750.5) scale(0.82,1)" class="par">(</text><text transform="translate(473,749.5) scale(1.1,1)" class="cap">a</text><text transform="translate(502.7,750.5) scale(0.82,1)" class="par">)</text>
<text transform="translate(1541.5,750.5) scale(0.82,1)" class="par">(</text><text transform="translate(1562.8,749.5) scale(1.1,1)" class="cap capb">b</text><text transform="translate(1594.7,750.5) scale(0.82,1)" class="par">)</text>
</svg>
</body></html>
